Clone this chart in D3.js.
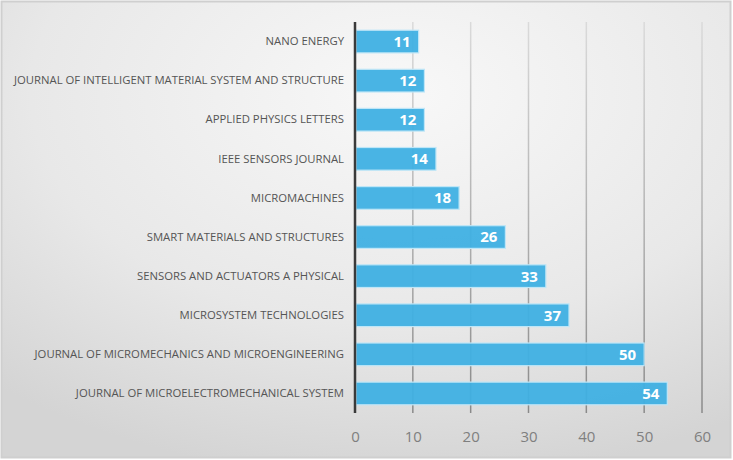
<!DOCTYPE html>
<html>
<head>
<meta charset="utf-8">
<script src="https://cdn.jsdelivr.net/npm/d3@7"></script>
<style>
  body { margin: 0; background: #fff; }
</style>
</head>
<body>
<div id="chart"></div>
<script>
// Chart data
var journals = [
    "NANO ENERGY",
    "JOURNAL OF INTELLIGENT MATERIAL SYSTEM AND STRUCTURE",
    "APPLIED PHYSICS LETTERS",
    "IEEE SENSORS JOURNAL",
    "MICROMACHINES",
    "SMART MATERIALS AND STRUCTURES",
    "SENSORS AND ACTUATORS A PHYSICAL",
    "MICROSYSTEM TECHNOLOGIES",
    "JOURNAL OF MICROMECHANICS AND MICROENGINEERING",
    "JOURNAL OF MICROELECTROMECHANICAL SYSTEM"
];
var counts = [11, 12, 12, 14, 18, 26, 33, 37, 50, 54];
var xTicks = [0, 10, 20, 30, 40, 50, 60];

// Chart params
var svgWidth = 733;
var svgHeight = 460;

var margin = {
    top: 22,
    right: 31,
    bottom: 47,
    left: 355
};

var width = svgWidth - margin.left - margin.right;
var height = svgHeight - margin.top - margin.bottom;

var svg = d3.select("#chart")
    .append("svg")
    .attr("width", svgWidth)
    .attr("height", svgHeight);

var defs = svg.append("defs");

// background gradient (light centre, greyer edges)
var bg = defs.append("radialGradient")
    .attr("id", "bg")
    .attr("cx", "55%").attr("cy", "20%").attr("r", "85%");
bg.append("stop").attr("offset", "0%").attr("stop-color", "#f8f8f8");
bg.append("stop").attr("offset", "60%").attr("stop-color", "#e8e8e8");
bg.append("stop").attr("offset", "100%").attr("stop-color", "#d4d4d4");

var gridGrad = defs.append("linearGradient")
    .attr("id", "gridGrad")
    .attr("gradientUnits", "userSpaceOnUse")
    .attr("x1", 0).attr("y1", 0).attr("x2", 0).attr("y2", height);
gridGrad.append("stop").attr("offset", "0%").attr("stop-color", "#dadada");
gridGrad.append("stop").attr("offset", "100%").attr("stop-color", "#8a8a8a");

svg.append("rect")
    .attr("x", 1.5).attr("y", 1.5)
    .attr("width", 729).attr("height", 456)
    .attr("fill", "url(#bg)")
    .attr("stroke", "#cfcfcf")
    .attr("stroke-width", 2);

var chartGroup = svg.append("g")
    .attr("transform", `translate(${margin.left}, ${margin.top})`);

var x = d3.scaleLinear()
    .domain([0, 60])
    .range([0, width]);

var y = d3.scaleBand()
    .domain(journals)
    .range([0, height])
    .paddingInner(0.42)
    .paddingOuter(0.21);

// gridlines
chartGroup.selectAll(".grid")
    .data(xTicks.slice(1))
    .enter()
    .append("line")
    .attr("x1", d => x(d))
    .attr("x2", d => x(d))
    .attr("y1", 0)
    .attr("y2", height)
    .attr("stroke", "url(#gridGrad)")
    .attr("stroke-width", 1.5);

// bars
chartGroup.selectAll(".bar")
    .data(counts)
    .enter()
    .append("rect")
    .attr("x", 1)
    .attr("y", (d, i) => y(journals[i]))
    .attr("width", d => x(d) - 1)
    .attr("height", y.bandwidth())
    .attr("fill", "#3fb0e3")
    .attr("fill-opacity", 0.95)
    .attr("stroke", "#bfe6f7")
    .attr("stroke-width", 1.2);

// value labels
chartGroup.selectAll(".val")
    .data(counts)
    .enter()
    .append("text")
    .attr("x", d => x(d) - 8)
    .attr("y", (d, i) => y(journals[i]) + y.bandwidth() / 2)
    .attr("dy", "0.36em")
    .attr("text-anchor", "end")
    .attr("font-family", "'Open Sans', sans-serif")
    .attr("font-weight", "bold")
    .attr("font-size", "15px")
    .attr("fill", "#ffffff")
    .text(d => d);

// category axis
var leftAxis = d3.axisLeft(y).tickSize(0).tickPadding(11);
var yAxisG = chartGroup.append("g").call(leftAxis);
yAxisG.select(".domain").remove();
var catText = yAxisG.selectAll("text")
    .attr("font-family", "'Open Sans', sans-serif")
    .attr("font-size", "11.5px")
    .attr("fill", "#555");

// squeeze labels to a condensed look (longest label ~330px wide)
var longest = d3.max(catText.nodes(), n => n.getComputedTextLength());
var squeeze = 330 / longest;
catText.each(function() {
    var w = this.getComputedTextLength();
    d3.select(this)
        .attr("textLength", w * squeeze)
        .attr("lengthAdjust", "spacingAndGlyphs");
});

chartGroup.append("line")
    .attr("x1", 0).attr("x2", 0)
    .attr("y1", 0).attr("y2", height)
    .attr("stroke", "#3a3a3a")
    .attr("stroke-width", 2.5);

// value axis labels
var bottomAxis = d3.axisBottom(x).tickValues(xTicks).tickSize(0).tickPadding(18);
var xAxisG = chartGroup.append("g")
    .attr("transform", `translate(0, ${height})`)
    .call(bottomAxis);
xAxisG.select(".domain").remove();
xAxisG.selectAll("text")
    .attr("font-family", "'Open Sans', sans-serif")
    .attr("font-size", "15px")
    .attr("fill", "#7f7f7f");
</script>
</body>
</html>
